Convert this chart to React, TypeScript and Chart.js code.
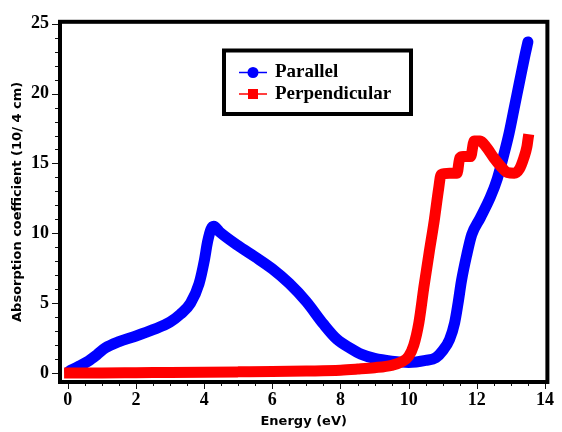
import React, { useEffect, useRef } from 'react';
import { Chart, registerables } from 'chart.js';

Chart.register(...registerables);

// ---- Data ----
const parallelEnergy = [0.05, 0.3, 0.6, 0.85, 1.1, 1.5, 2.0, 2.5, 3.0, 3.3, 3.6, 3.85, 4.0, 4.1, 4.2, 4.28, 4.45, 5.0, 5.5, 6.0, 6.5, 7.0, 7.5, 7.9, 8.3, 8.6, 9.0, 9.5, 10.0, 10.5, 10.8, 11.0, 11.2, 11.35, 11.45, 11.55, 11.7, 11.85, 12.1, 12.4, 12.6, 12.8, 12.95, 13.1, 13.25, 13.4, 13.5];
const parallelValues = [0.15, 0.45, 0.85, 1.3, 1.8, 2.25, 2.65, 3.1, 3.65, 4.2, 5.0, 6.4, 8.0, 9.4, 10.3, 10.5, 10.1, 9.1, 8.3, 7.45, 6.4, 5.1, 3.5, 2.4, 1.75, 1.35, 1.05, 0.85, 0.75, 0.9, 1.1, 1.6, 2.4, 3.6, 5.0, 6.6, 8.4, 9.9, 11.1, 12.6, 13.9, 15.7, 17.2, 19.0, 20.8, 22.6, 23.7];

const perpEnergy = [0.05, 1, 2, 3, 4, 5, 6, 7, 8, 8.5, 9.0, 9.5, 9.8, 10.0, 10.15, 10.3, 10.45, 10.6, 10.75, 10.88, 10.95, 11.2, 11.42, 11.5, 11.6, 11.82, 11.92, 12.1, 12.3, 12.5, 12.7, 12.9, 13.1, 13.25, 13.38, 13.47, 13.5];
const perpValues = [0.0, 0.0, 0.02, 0.04, 0.06, 0.08, 0.1, 0.14, 0.2, 0.28, 0.38, 0.55, 0.8, 1.2, 2.0, 3.6, 6.2, 8.6, 10.9, 13.2, 14.2, 14.3, 14.3, 15.4, 15.5, 15.5, 16.6, 16.6, 16.1, 15.4, 14.8, 14.35, 14.3, 14.6, 15.4, 16.2, 16.7];

const seriesNames = ['Parallel', 'Perpendicular'];
const xTicks = [0, 2, 4, 6, 8, 10, 12, 14];
const yTicks = [0, 5, 10, 15, 20, 25];
const xMinorStep = 0.5;
const yMinorStep = 1;
const xTitle = 'Energy (eV)';
const yTitle = 'Absorption coefficient (10/ 4 cm)';

const BLUE = 'rgb(0,0,255)';
const RED = 'rgb(255,0,0)';

const framePlugin = {
  id: 'frameAndLegend',
  afterDraw(chart: any) {
    const { ctx, chartArea: a, scales } = chart;
    const x = scales.x;
    const y = scales.y;
    ctx.save();
    // tick marks
    ctx.strokeStyle = '#111';
    ctx.lineWidth = 1;
    const xFirst = xTicks[0];
    const xLast = xTicks[xTicks.length - 1];
    for (let i = 0; xFirst + i * xMinorStep <= xLast + 1e-9; i++) {
      const v = xFirst + i * xMinorStep;
      const major = xTicks.some((t) => Math.abs(t - v) < 1e-9);
      const px = Math.round(x.getPixelForValue(v)) + 0.5;
      ctx.beginPath();
      ctx.moveTo(px, a.bottom);
      ctx.lineTo(px, a.bottom + (major ? 7 : 4));
      ctx.stroke();
    }
    const yFirst = yTicks[0];
    const yLast = yTicks[yTicks.length - 1];
    for (let i = 0; yFirst + i * yMinorStep <= yLast + 1e-9; i++) {
      const v = yFirst + i * yMinorStep;
      const major = yTicks.some((t) => Math.abs(t - v) < 1e-9);
      const py = Math.round(y.getPixelForValue(v)) + 0.5;
      ctx.beginPath();
      ctx.moveTo(a.left, py);
      ctx.lineTo(a.left - (major ? 8 : 5), py);
      ctx.stroke();
    }
    // frame
    ctx.strokeStyle = '#000';
    ctx.lineWidth = 4;
    ctx.strokeRect(a.left, a.top, a.right - a.left, a.bottom - a.top);

    // legend box
    const lx = 224, ly = 50.5, lw = 187, lh = 63.5;
    ctx.fillStyle = '#fff';
    ctx.fillRect(lx, ly, lw, lh);
    ctx.lineWidth = 4;
    ctx.strokeStyle = '#000';
    ctx.strokeRect(lx, ly, lw, lh);
    const rows = [
      { name: seriesNames[0], color: BLUE, shape: 'circle', yy: 72.5 },
      { name: seriesNames[1], color: RED, shape: 'square', yy: 94 },
    ];
    ctx.font = 'bold 19px "Liberation Serif", "Times New Roman", serif';
    ctx.textBaseline = 'middle';
    ctx.textAlign = 'left';
    rows.forEach((r) => {
      ctx.strokeStyle = r.color;
      ctx.lineWidth = 1.5;
      ctx.beginPath();
      ctx.moveTo(239, r.yy);
      ctx.lineTo(267, r.yy);
      ctx.stroke();
      ctx.fillStyle = r.color;
      if (r.shape === 'circle') {
        ctx.beginPath();
        ctx.arc(253, r.yy, 5.5, 0, Math.PI * 2);
        ctx.fill();
      } else {
        ctx.fillRect(248, r.yy - 5, 10, 10);
      }
      ctx.fillStyle = '#000';
      ctx.fillText(r.name, 275, r.yy);
    });
    ctx.restore();
  },
};

export default function App() {
  const ref = useRef<HTMLCanvasElement | null>(null);
  useEffect(() => {
    if (!ref.current) return;
    const tickFont = { family: '"Liberation Serif", "Times New Roman", serif', size: 18, weight: 'bold' as const };
    const titleFont = { family: '"DejaVu Sans", Verdana, sans-serif', size: 13, weight: 'bold' as const };
    const chart = new Chart(ref.current, {
      type: 'line',
      data: {
        datasets: [
          {
            label: seriesNames[0],
            data: parallelEnergy.map((e, i) => ({ x: e, y: parallelValues[i] })),
            borderColor: BLUE,
            backgroundColor: BLUE,
            borderWidth: 11,
            borderCapStyle: 'round',
            borderJoinStyle: 'round',
            pointRadius: 0,
            cubicInterpolationMode: 'monotone',
            order: 1,
          },
          {
            label: seriesNames[1],
            data: perpEnergy.map((e, i) => ({ x: e, y: perpValues[i] })),
            borderColor: RED,
            backgroundColor: RED,
            borderWidth: 11,
            borderCapStyle: 'square',
            borderJoinStyle: 'round',
            pointRadius: 0,
            cubicInterpolationMode: 'monotone',
            order: 0,
          },
        ],
      },
      options: {
        responsive: false,
        animation: false,
        devicePixelRatio: 1,
        layout: { padding: { left: 0, right: 6, top: 14, bottom: 0 } },
        plugins: { legend: { display: false }, tooltip: { enabled: false } },
        scales: {
          x: {
            type: 'linear',
            min: -0.231,
            max: 14.071,
            grid: { display: false, drawTicks: false },
            border: { display: false },
            afterBuildTicks: (s: any) => { s.ticks = xTicks.map((v) => ({ value: v })); },
            afterFit: (s: any) => { s.height = 50; },
            ticks: { color: '#000', font: tickFont, padding: 8, maxRotation: 0, autoSkip: false },
            title: { display: true, text: xTitle, color: '#000', font: titleFont, padding: { top: 0, bottom: 3 } },
          },
          y: {
            type: 'linear',
            min: -0.645,
            max: 25.14,
            grid: { display: false, drawTicks: false },
            border: { display: false },
            afterBuildTicks: (s: any) => { s.ticks = yTicks.map((v) => ({ value: v })); },
            afterFit: (s: any) => { s.width = 60; },
            ticks: { color: '#000', font: tickFont, padding: 11, autoSkip: false },
            title: { display: true, text: yTitle, color: '#000', font: titleFont, padding: { top: 10, bottom: 0 } },
          },
        },
      },
      plugins: [framePlugin],
    });
    return () => chart.destroy();
  }, []);
  return (
    <div style={{ position: 'absolute', left: 0, top: 0, width: 562, height: 432, background: '#fff' }}>
      <canvas ref={ref} width={562} height={432} style={{ display: 'block' }} />
    </div>
  );
}
